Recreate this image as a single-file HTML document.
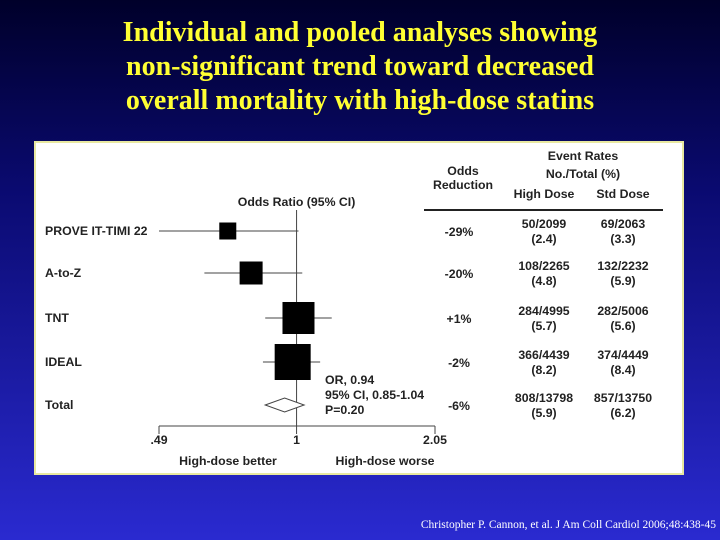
<!DOCTYPE html>
<html><head><meta charset="utf-8"><style>
body{margin:0;width:720px;height:540px;overflow:hidden;background:linear-gradient(#00002a 0%,#0a0a70 35%,#2a2ad0 100%);font-family:"Liberation Sans",sans-serif}
.t{position:absolute;left:0;width:720px;text-align:center;color:#ffff33;font:bold 28px "Liberation Serif",serif;line-height:34px;top:16px}
.cite{position:absolute;right:4px;top:519px;color:#fff;font:11.5px "Liberation Serif",serif}
</style></head><body>
<div class="t">Individual and pooled analyses showing<br>non-significant trend toward decreased<br>overall mortality with high-dose statins</div>
<svg width="720" height="540" style="position:absolute;left:0;top:0" id="svg">
<rect x="35" y="142" width="648" height="332" fill="#fff" stroke="#e8e8a0" stroke-width="2"/>
</svg>
<div class="cite">Christopher P. Cannon, et al. J Am Coll Cardiol 2006;48:438-45</div>
<script>
const studies=["PROVE IT-TIMI 22","A-to-Z","TNT","IDEAL","Total"];
const orVals=[0.70,0.79,1.01,0.98,0.94];
const ciLow=[0.49,0.62,0.85,0.84,0.85];
const ciHigh=[1.01,1.03,1.20,1.13,1.04];
const boxSize=[17,23,32,36,0];
const reductions=["-29%","-20%","+1%","-2%","-6%"];
const highDose=["50/2099","108/2265","284/4995","366/4439","808/13798"];
const highPct=["(2.4)","(4.8)","(5.7)","(8.2)","(5.9)"];
const stdDose=["69/2063","132/2232","282/5006","374/4449","857/13750"];
const stdPct=["(3.3)","(5.9)","(5.6)","(8.4)","(6.2)"];
const ticks=[0.49,1,2.05];
const tickLabels=[".49","1","2.05"];
const svg=document.getElementById('svg');
const NS="http://www.w3.org/2000/svg";
const x0=159,x1=435;
const lmin=Math.log(0.49),lmax=Math.log(2.05);
function xs(v){return x0+(Math.log(v)-lmin)/(lmax-lmin)*(x1-x0);}
function ys(i){return [231,273,318,362,405][i];}
function mk(tag,at,name,txt){const e=document.createElementNS(NS,tag);for(const k in at)e.setAttribute(k,at[k]);


if(txt!==undefined)e.textContent=txt;svg.appendChild(e);return e;}
const F='font-family:"Liberation Sans",sans-serif;font-weight:bold;font-size:12.3px;fill:#222';
mk('text',{x:xs(1),y:206,'text-anchor':'middle',style:F},'x-axis-title','Odds Ratio (95% CI)');
mk('line',{x1:xs(1),y1:210,x2:xs(1),y2:426,stroke:'#444','stroke-width':1},'reference-line');
mk('line',{x1:x0,y1:426,x2:x1,y2:426,stroke:'#444','stroke-width':1},'x-axis');
ticks.forEach((t,i)=>{mk('line',{x1:xs(t),y1:426,x2:xs(t),y2:434,stroke:'#444'},'x-tick');
mk('text',{x:xs(t),y:444,'text-anchor':'middle',style:F},'x-tick-label',tickLabels[i]);});
mk('text',{x:228,y:465,'text-anchor':'middle',style:F},'high-dose-better-label','High-dose better');
mk('text',{x:385,y:465,'text-anchor':'middle',style:F},'high-dose-worse-label','High-dose worse');
studies.forEach((s,i)=>{const y=ys(i);
mk('text',{x:45,y:y+4,style:F},'study-label',s);
if(i<4){mk('line',{x1:xs(ciLow[i]),y1:y,x2:xs(ciHigh[i]),y2:y,stroke:'#444'},'ci-line');
const b=boxSize[i];mk('rect',{x:xs(orVals[i])-b/2,y:y-b/2,width:b,height:b,fill:'#000'},'study-box');}
else{mk('polygon',{points:`${xs(ciLow[i])},${y} ${xs(orVals[i])},${y-7} ${xs(ciHigh[i])},${y} ${xs(orVals[i])},${y+7}`,fill:'#fff',stroke:'#444'},'pooled-diamond');}
mk('text',{x:459,y:y+5,'text-anchor':'middle',style:F},'odds-reduction',reductions[i]);
mk('text',{x:544,y:y-3,'text-anchor':'middle',style:F},'high-dose-count',highDose[i]);
mk('text',{x:544,y:y+12,'text-anchor':'middle',style:F},'high-dose-pct',highPct[i]);
mk('text',{x:623,y:y-3,'text-anchor':'middle',style:F},'std-dose-count',stdDose[i]);
mk('text',{x:623,y:y+12,'text-anchor':'middle',style:F},'std-dose-pct',stdPct[i]);});
mk('text',{x:325,y:384,style:F},'pooled-or','OR, 0.94');
mk('text',{x:325,y:399,style:F},'pooled-ci','95% CI, 0.85-1.04');
mk('text',{x:325,y:414,style:F},'pooled-p','P=0.20');
mk('text',{x:583,y:160,'text-anchor':'middle',style:F},'header-event-rates','Event Rates');
mk('text',{x:583,y:178,'text-anchor':'middle',style:F},'header-no-total','No./Total (%)');
mk('text',{x:544,y:198,'text-anchor':'middle',style:F},'header-high-dose','High Dose');
mk('text',{x:623,y:198,'text-anchor':'middle',style:F},'header-std-dose','Std Dose');
mk('text',{x:463,y:175,'text-anchor':'middle',style:F},'header-odds','Odds');
mk('text',{x:463,y:189,'text-anchor':'middle',style:F},'header-reduction','Reduction');
mk('line',{x1:424,y1:210,x2:663,y2:210,stroke:'#222','stroke-width':2},'header-rule');
</script>
</body></html>
